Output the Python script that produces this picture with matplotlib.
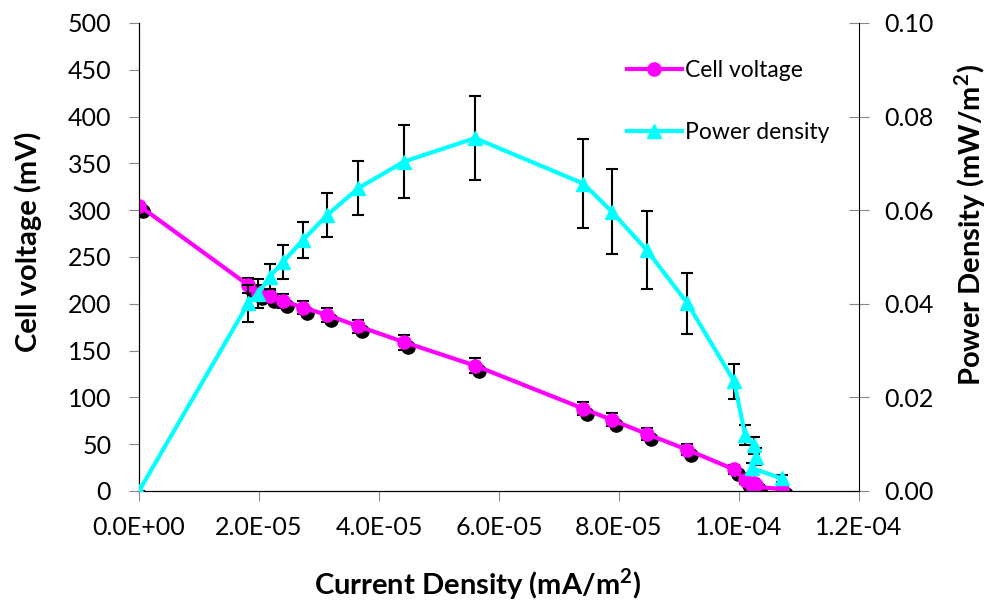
import numpy as np
import matplotlib
matplotlib.use('Agg')
import matplotlib.pyplot as plt
import matplotlib.transforms as mtransforms
from matplotlib.ticker import FuncFormatter, MultipleLocator

plt.rcParams['font.family'] = ['Lato', 'DejaVu Sans']

# current density (mA/m2)
current = np.array([0, 18.2, 19.9, 21.8, 24.05, 27.3, 31.4, 36.55, 44.2, 56.0,
                    74.05, 78.8, 84.6, 91.4, 99.2, 101.0, 102.5, 102.8, 102.1, 107.1]) * 1e-6
# cell voltage (mV)
voltage = np.array([305, 220, 212, 208, 203, 196, 188, 176, 159, 134,
                    88, 76, 61, 44, 23, 12, 9, 6, 5, 2])
voltage_err = np.array([0, 8, 8, 7, 7, 7, 7, 7, 8, 8,
                        7, 7, 6, 6, 5, 4, 4, 3, 3, 2])
# power density (mW/m2)
power = np.array([0, 0.0401, 0.0422, 0.0458, 0.0490, 0.0536, 0.0590, 0.0647, 0.0704, 0.0754,
                  0.0657, 0.0597, 0.0515, 0.0401, 0.0234, 0.0120, 0.0098, 0.0073, 0.0049, 0.0027])
power_err = np.array([0, 0.0039, 0.0030, 0.0027, 0.0036, 0.0039, 0.0047, 0.0058, 0.0077, 0.0090,
                      0.0096, 0.0091, 0.0084, 0.0065, 0.0037, 0.0021, 0.0018, 0.0018, 0.0010, 0.0007])

fig = plt.figure(figsize=(9.9, 6.08), dpi=100)
ax = fig.add_axes([139/990, 117/608, 720/990, 468/608])
ax2 = ax.twinx()

# cell voltage with black shadow markers
ax.errorbar(current, voltage, yerr=voltage_err, fmt='none', ecolor='black',
            elinewidth=1.5, capsize=4.5, capthick=1.5, zorder=1)
shadow = ax.transData + mtransforms.ScaledTranslation(4/100, -5/100, fig.dpi_scale_trans)
ax.plot(current, voltage, 'o', color='black', markersize=9.5, transform=shadow, zorder=2)
l1, = ax.plot(current, voltage, '-o', color='#FF00FF', lw=3, markersize=9.5,
              label='Cell voltage', zorder=3)

# power density
ax2.errorbar(current, power, yerr=power_err, fmt='none', ecolor='black',
             elinewidth=1.5, capsize=4.5, capthick=1.5, zorder=1)
l2, = ax2.plot(current, power, '-^', color='#00FFFF', lw=3, markersize=9.5,
               label='Power density', zorder=3)

ax.set_xlim(0, 1.2e-4)
ax.set_ylim(0, 500)
ax2.set_ylim(0, 0.10)
ax.xaxis.set_major_locator(MultipleLocator(2e-5))
ax.yaxis.set_major_locator(MultipleLocator(50))
ax2.yaxis.set_major_locator(MultipleLocator(0.02))
ax.xaxis.set_major_formatter(FuncFormatter(lambda v, p: '{:.1E}'.format(v)))
ax2.yaxis.set_major_formatter(FuncFormatter(lambda v, p: '{:.2f}'.format(v)))

for a in (ax, ax2):
    a.spines['top'].set_visible(False)
    a.patch.set_visible(False)
ax.tick_params(axis='x', direction='out', length=7, color='#888888', labelsize=18, pad=11)
ax.tick_params(axis='y', direction='out', length=7, color='#888888', labelsize=18, pad=13)
ax2.tick_params(axis='y', direction='inout', length=14, color='#888888', labelsize=18, pad=11)
ax.spines['right'].set_visible(False)

ax.set_xlabel('Current Density (mA/m$^\\mathregular{2}$)', fontsize=21, fontweight='bold', va='center')
ax.set_ylabel('Cell voltage (mV)', fontsize=21, fontweight='bold', va='center')
ax2.set_ylabel('Power Density (mW/m$^\\mathregular{2}$)', fontsize=21, fontweight='bold', va='center')
ax.xaxis.set_label_coords(0.47, -0.2)
ax.yaxis.set_label_coords(-0.154, 0.532)
ax2.yaxis.set_label_coords(1.155, 0.568)

ax2.legend(handles=[l1, l2], loc='upper left', bbox_to_anchor=(0.665, 0.941),
           frameon=False, fontsize=16.5, labelspacing=1.8, handlelength=2.4,
           handletextpad=0.15, borderaxespad=0)

fig.savefig('out.png', dpi=100)
